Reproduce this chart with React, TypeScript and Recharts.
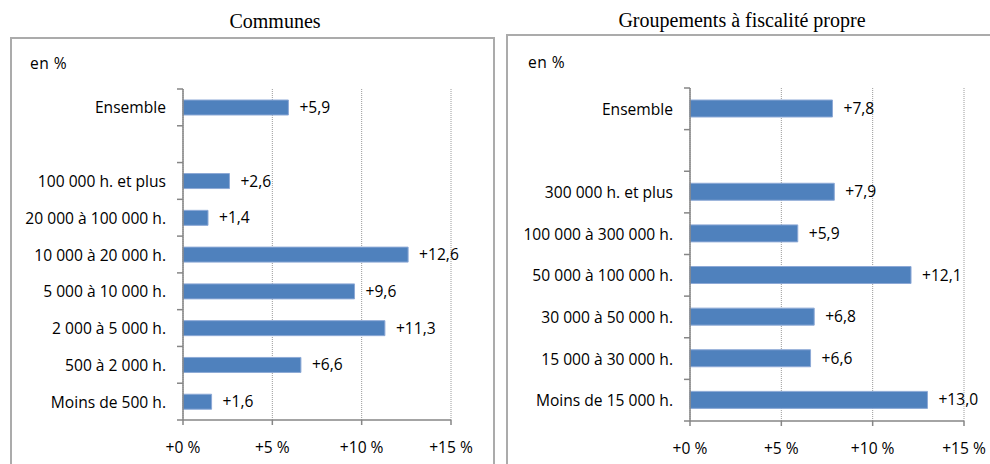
import { BarChart, Bar, XAxis, YAxis, CartesianGrid, LabelList } from 'recharts'

const communesCats = [
  'Ensemble',
  '',
  '100 000 h. et plus',
  '20 000 à 100 000 h.',
  '10 000 à 20 000 h.',
  '5 000 à 10 000 h.',
  '2 000 à 5 000 h.',
  '500 à 2 000 h.',
  'Moins de 500 h.',
]
const communesValues = [5.9, null, 2.6, 1.4, 12.6, 9.6, 11.3, 6.6, 1.6]

const groupCats = [
  'Ensemble',
  '',
  '300 000 h. et plus',
  '100 000 à 300 000 h.',
  '50 000 à 100 000 h.',
  '30 000 à 50 000 h.',
  '15 000 à 30 000 h.',
  'Moins de 15 000 h.',
]
const groupValues = [7.8, null, 7.9, 5.9, 12.1, 6.8, 6.6, 13.0]

const xTicks = [0, 5, 10, 15]

const FONT = '"Open Sans", sans-serif'
const FS = 15.6
const AXIS = '#868686'

const fmt = (v: any) => (v == null ? '' : '+' + Number(v).toFixed(1).replace('.', ','))

interface PanelProps {
  cats: string[]
  values: (number | null)[]
  left: number
  width: number
  axisW: number
  right: number
  top: number
  plotBottom: number
  barSize: number
}

function Panel({ cats, values, left, width, axisW, right, top, plotBottom, barSize }: PanelProps) {
  const height = 464
  const xAxisH = 30
  const data = cats.map((c, i) => ({ name: c, value: values[i] }))
  const bandH = (plotBottom - top) / cats.length

  const yTick = (p: any) => {
    const { y, payload, index } = p
    return (
      <g key={'yt' + index}>
        <line x1={axisW - 6} x2={axisW} y1={y - bandH / 2} y2={y - bandH / 2} stroke={AXIS} strokeWidth={1.5} />
        {index === cats.length - 1 && (
          <line x1={axisW - 6} x2={axisW} y1={y + bandH / 2} y2={y + bandH / 2} stroke={AXIS} strokeWidth={1.5} />
        )}
        <text x={axisW - 17} y={y} textAnchor="end" dominantBaseline="central" fontSize={FS} fontFamily={FONT} fill="#000">
          {payload.value}
        </text>
      </g>
    )
  }

  const xTick = (p: any) => {
    const { x, payload, index } = p
    return (
      <text key={'xt' + index} x={x} y={plotBottom + 27} textAnchor="middle" dominantBaseline="central" fontSize={FS} fontFamily={FONT} fill="#000">
        {'+' + payload.value + ' %'}
      </text>
    )
  }

  return (
    <div style={{ position: 'absolute', left, top: 0 }}>
      <BarChart
        width={width}
        height={height}
        data={data}
        layout="vertical"
        margin={{ top, right, bottom: height - plotBottom - xAxisH, left: 0 }}
      >
        <CartesianGrid horizontal={false} stroke="#9a9a9a" strokeDasharray="1 1" />
        <XAxis
          type="number"
          domain={[0, 15]}
          ticks={xTicks}
          height={xAxisH}
          axisLine={{ stroke: AXIS, strokeWidth: 1.5 }}
          tickLine={{ stroke: AXIS, strokeWidth: 1.5 }}
          tickSize={5}
          tick={xTick}
        />
        <YAxis
          type="category"
          dataKey="name"
          width={axisW}
          interval={0}
          axisLine={{ stroke: AXIS, strokeWidth: 1.5 }}
          tickLine={false}
          tick={yTick}
        />
        <Bar dataKey="value" fill="#4F81BD" stroke="#8DA9D6" strokeWidth={1} barSize={barSize} isAnimationActive={false}>
          <LabelList dataKey="value" position="right" offset={11} formatter={fmt} fill="#000" fontSize={FS} fontFamily={FONT} />
        </Bar>
      </BarChart>
    </div>
  )
}

export default function App() {
  return (
    <div style={{ position: 'absolute', left: 0, top: 0, width: 990, height: 464, background: '#fff', overflow: 'hidden' }}>
      <div style={{ position: 'absolute', left: 10, top: 37, width: 485, height: 440, border: '2px solid #ababab', boxSizing: 'border-box' }} />
      <div style={{ position: 'absolute', left: 506, top: 34, width: 500, height: 440, border: '2px solid #ababab', boxSizing: 'border-box' }} />
      <div style={{ position: 'absolute', left: 175, width: 200, top: 8, textAlign: 'center', fontFamily: '"Liberation Serif", serif', fontSize: 20, lineHeight: '26px' }}>
        Communes
      </div>
      <div style={{ position: 'absolute', left: 592, width: 300, top: 7, textAlign: 'center', fontFamily: '"Liberation Serif", serif', fontSize: 20, lineHeight: '26px' }}>
        Groupements à fiscalité propre
      </div>
      <div style={{ position: 'absolute', left: 30, top: 52, fontFamily: FONT, fontSize: FS, letterSpacing: 0.5, lineHeight: '22px' }}>en %</div>
      <div style={{ position: 'absolute', left: 528, top: 51, fontFamily: FONT, fontSize: FS, letterSpacing: 0.5, lineHeight: '22px' }}>en %</div>
      <Panel cats={communesCats} values={communesValues} left={0} width={495} axisW={183} right={44} top={89} plotBottom={420} barSize={15} />
      <Panel cats={groupCats} values={groupValues} left={500} width={490} axisW={190} right={26} top={88} plotBottom={421} barSize={17} />
    </div>
  )
}
